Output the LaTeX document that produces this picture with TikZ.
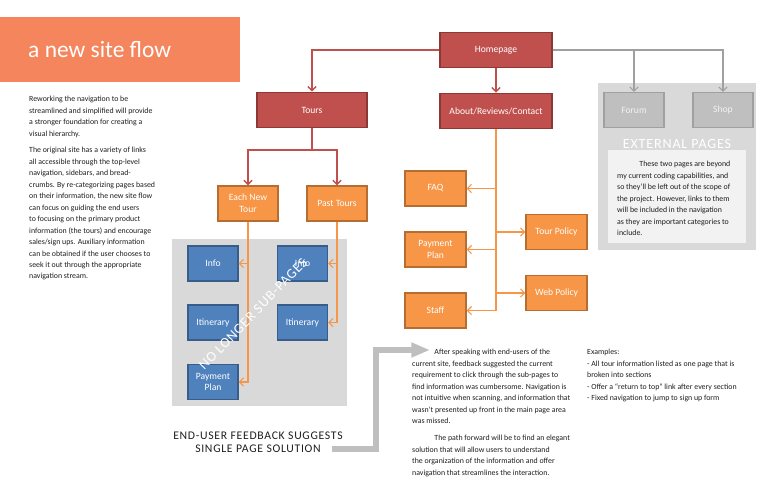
\documentclass[tikz,border=0pt]{standalone}
\usepackage{fontspec}
\setmainfont{Carlito}
\newfontfamily\spacedfont[LetterSpace=6]{Carlito}
\usepackage{tikz}
\usetikzlibrary{arrows,arrows.meta,shapes,positioning}

\definecolor{bannerorange}{RGB}{244,133,92}
\definecolor{boxred}{RGB}{192,80,77}
\definecolor{edgered}{RGB}{140,56,54}
\definecolor{boxorange}{RGB}{247,150,70}
\definecolor{edgeorange}{RGB}{182,109,49}
\definecolor{boxblue}{RGB}{79,129,189}
\definecolor{edgeblue}{RGB}{56,93,138}
\definecolor{panelgray}{RGB}{217,217,217}
\definecolor{boxgray}{RGB}{191,191,191}
\definecolor{edgegray}{RGB}{160,160,160}
\definecolor{innergray}{RGB}{242,242,242}
\definecolor{bodytext}{RGB}{30,30,30}

\begin{document}
\begin{tikzpicture}[x=0.03cm,y=-0.03cm,>={Straight Barb[length=3.5pt,width=7pt]}]
\tikzstyle{every node}+=[inner sep=0pt]
\tikzstyle{boxtext}=[text=white,font=\fontsize{8.2}{10}\selectfont,align=center,line width=1pt]
\tikzstyle{redbox}=[boxtext,draw=edgered,fill=boxred,minimum height=1.07cm]
\tikzstyle{orbox}=[boxtext,draw=edgeorange,fill=boxorange,minimum width=1.8cm,minimum height=1.05cm]
\tikzstyle{bluebox}=[boxtext,draw=edgeblue,fill=boxblue,minimum width=1.5cm,minimum height=1.05cm]
\tikzstyle{graybox}=[boxtext,text=innergray,draw=edgegray,fill=boxgray,minimum width=1.8cm,minimum height=1.05cm]
\tikzstyle{body}=[font=\fontsize{6.7}{9.8}\selectfont,align=left,anchor=north west,text=bodytext]
\tikzstyle{redline}=[draw=boxred,line width=1.2pt,->]
\tikzstyle{orline}=[draw=boxorange,line width=1pt,->]
\tikzstyle{grayline}=[draw=edgegray,line width=1pt,->]
\tikzstyle{bigarrow}=[draw=boxgray,line width=4.5pt,-{Triangle[length=16pt,width=12pt]}]
\useasboundingbox (0,0) rectangle (773,500);

\node [fill=bannerorange,minimum width=7.2cm,minimum height=1.95cm] (banner) at (120,49.5) {};
\node [anchor=west,text=white,font=\fontsize{20}{24}\selectfont] (title) at (28,50) {a new site flow};

\node [body] (intro) at (29,96) {Reworking the navigation to be\\
streamlined and simplified will provide\\
a stronger foundation for creating a\\
visual hierarchy.};
\node [body] (orig) at (29,147) {The original site has a variety of links\\
all accessible through the top-level\\
navigation, sidebars, and bread-\\
crumbs. By re-categorizing pages based\\
on their information, the new site flow\\
can focus on guiding the end users\\
to focusing on the primary product\\
information (the tours) and encourage\\
sales/sign ups. Auxiliary information\\
can be obtained if the user chooses to\\
seek it out through the appropriate\\
navigation stream.};

\node [fill=panelgray,minimum width=4.74cm,minimum height=5.01cm] (extpanel) at (677,166.5) {};
\node [fill=panelgray,minimum width=5.25cm,minimum height=5.01cm] (subpanel) at (259.5,322.5) {};

\node [redbox,minimum width=3.36cm] (home) at (496,50) {Homepage};
\node [redbox,minimum width=3.3cm] (tours) at (312,110) {Tours};
\node [redbox,minimum width=3.36cm] (about) at (496,111) {About/Reviews/Contact};

\node [graybox] (forum) at (634,110) {Forum};
\node [graybox] (shop) at (723,110) {Shop};
\node [text=white,font=\spacedfont\fontsize{12}{14}\selectfont] (extlabel) at (677,144) {EXTERNAL PAGES};
\node [fill=innergray,minimum width=4.14cm,minimum height=2.79cm] (extinner) at (677,196.5) {};
\node [body] (exttext) at (617,161) {\hspace*{19pt}These two pages are beyond\\
my current coding capabilities, and\\
so they'll be left out of the scope of\\
the project. However, links to them\\
will be included in the navigation\\
as they are important categories to\\
include.};

\node [orbox] (newtour) at (248,203.5) {Each New\\Tour};
\node [orbox] (pasttours) at (337,203.5) {Past Tours};

\node [bluebox] (info1) at (213,263.5) {Info};
\node [bluebox] (info2) at (302.5,263.5) {Info};
\node [bluebox] (itin1) at (213,322.5) {Itinerary};
\node [bluebox] (itin2) at (302.5,322.5) {Itinerary};
\node [bluebox] (pay1) at (213,382) {Payment\\Plan};

\node [orbox,minimum width=1.83cm] (faq) at (435.5,188.5) {FAQ};
\node [orbox,minimum width=1.83cm] (pay2) at (435.5,249.5) {Payment\\Plan};
\node [orbox,minimum width=1.83cm] (staff) at (435.5,310.5) {Staff};
\node [orbox,minimum width=1.83cm] (tourpol) at (556.5,232) {Tour Policy};
\node [orbox,minimum width=1.83cm] (webpol) at (556.5,293) {Web Policy};

\coordinate (tsplit) at (312,150);
\draw [redline] (home.west) -| (tours.north);
\draw [redline] (home) -- (about);
\draw [redline] (tours.south) -- (tsplit) -| (newtour.north);
\draw [redline] (tsplit) -| (pasttours.north);
\draw [grayline] (home.east) -| (forum.north);
\draw [grayline] (home.east) -| (shop.north);

\draw [orline] (newtour.south) |- (pay1.east);
\draw [orline] (newtour.south |- info1.east) -- (info1.east);
\draw [orline] (pasttours.south) |- (itin2.east);
\draw [orline] (pasttours.south |- info2.east) -- (info2.east);

\draw [orline] (about.south) |- (staff.east);
\draw [orline] (about.south |- faq.east) -- (faq.east);
\draw [orline] (about.south |- pay2.east) -- (pay2.east);
\draw [orline] (about.south |- tourpol.west) -- (tourpol.west);
\draw [orline] (about.south |- webpol.west) -- (webpol.west);

\node [text=white,rotate=46,font=\spacedfont\fontsize{12}{14}\selectfont] (nolonger) at (253,314) {NO LONGER SUB-PAGES};

\node [font=\spacedfont\fontsize{10}{12}\selectfont,text=bodytext] (fb1) at (258,436) {END-USER FEEDBACK SUGGESTS};
\node [font=\spacedfont\fontsize{10}{12}\selectfont,text=bodytext] (fb2) at (258,449) {SINGLE PAGE SOLUTION};
\coordinate (fbtip) at (430,350);
\draw [bigarrow] (332,449) -- ++(44,0) |- (fbtip);

\node [body] (feedback) at (412,349) {\hspace*{19pt}After speaking with end-users of the\\
current site, feedback suggested the current\\
requirement to click through the sub-pages to\\
find information was cumbersome. Navigation is\\
not intuitive when scanning, and information that\\
wasn't presented up front in the main page area\\
was missed.\\[5pt]
\hspace*{19pt}The path forward will be to find an elegant\\
solution that will allow users to understand\\
the organization of the information and offer\\
navigation that streamlines the interaction.};
\node [body] (examples) at (587,349) {Examples:\\
- All tour information listed as one page that is\\
broken into sections\\
- Offer a ``return to top'' link after every section\\
- Fixed navigation to jump to sign up form};
\end{tikzpicture}
\end{document}
